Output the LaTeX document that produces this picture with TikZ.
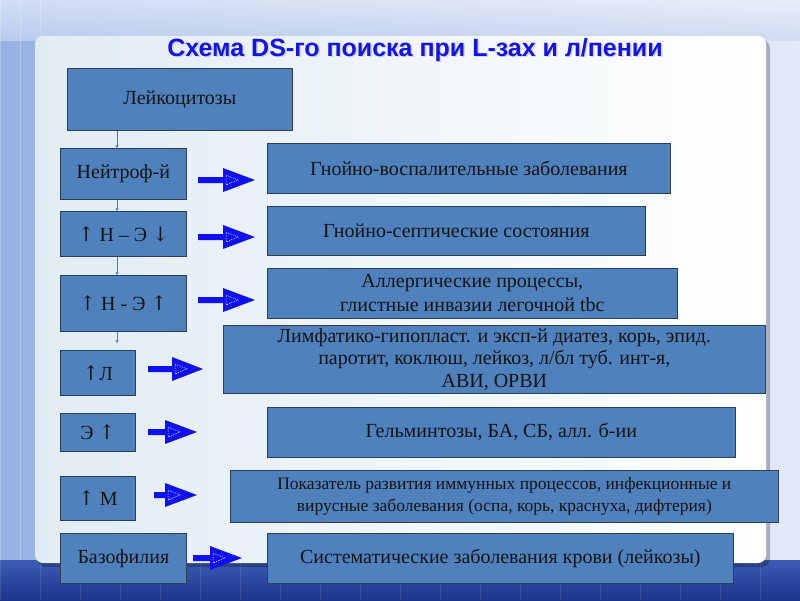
\documentclass[tikz,border=0pt]{standalone}
\usepackage{fontspec}
\setmainfont{Liberation Serif}
\newfontfamily\titlefont{Liberation Sans}
\newfontfamily\arrfont{DejaVu Serif}
\usetikzlibrary{arrows.meta,shadows,calc}
\definecolor{boxblue}{HTML}{4F81BD}
\definecolor{boxline}{HTML}{2E3E55}
\definecolor{arrblue}{HTML}{1010F0}
\definecolor{conblue}{HTML}{5566EE}
\definecolor{titleblue}{HTML}{1414E6}
\definecolor{txt}{HTML}{141414}
\newcommand\up{{\arrfont ↑}}
\newcommand\dn{{\arrfont ↓}}
\newcommand\blkarrow[4]{% x1, head start, tip, y
  \fill[arrblue] (#1,#4-3) -- (#2,#4-3) -- (#2,#4-12) -- (#3,#4) -- (#2,#4+12) -- (#2,#4+3) -- (#1,#4+3) -- cycle;
  \draw[white, line width=0.5pt, dash pattern=on 1.2pt off 1.2pt] (#2+3,#4-5) -- (#2+15,#4) -- (#2+3,#4+5) -- cycle;
}
\begin{document}
\begin{tikzpicture}[x=1pt,y=-1pt,
  box/.style={draw=boxline, line width=0.7pt, fill=boxblue, text=txt, align=center, inner sep=1pt, anchor=north west},
  lbox/.style={box, font=\fontsize{20}{22}\selectfont},
  rbox/.style={box, font=\fontsize{20}{24}\selectfont},
  con/.style={draw=conblue, line width=0.6pt, -{Stealth[length=3pt,width=3pt]}}]
\useasboundingbox (0,0) rectangle (800,600);
% background
\shade[left color={rgb,255:red,150;green,178;blue,228}, right color={rgb,255:red,226;green,234;blue,248}] (0,0) rectangle (800,600);
\shade[top color={rgb,255:red,236;green,240;blue,250}, bottom color={rgb,255:red,200;green,214;blue,240}, opacity=0.7] (0,0) rectangle (800,40);
\foreach \r in {60,90,120,150}{
  \draw[white, line width=2pt, opacity=0.6] (420+\r,40) arc (0:180:\r*0.6 and \r*0.4);
}
\foreach \xx in {0,20,...,40}{\draw[white,opacity=0.25,line width=1pt] (\xx,0) -- (\xx,560);}
\shade[top color={rgb,255:red,60;green,92;blue,180}, bottom color={rgb,255:red,28;green,52;blue,140}] (0,560) rectangle (800,600);
\foreach \xx in {0,40,...,800}{\draw[white,opacity=0.12,line width=0.8pt] (\xx,560) -- (\xx,600);}
% panel
\fill[black, opacity=0.25, rounded corners=8pt] (38,40) rectangle (770,567);
\shade[rounded corners=8pt, left color={rgb,255:red,224;green,236;blue,243}, right color=white] (35,36) rectangle (766,563);
% title
\node[font=\titlefont\bfseries\fontsize{25}{27}\selectfont, text=gray!40, opacity=0.8] at (416.5,51.5) {Схема DS-го поиска при L-зах и л/пении};
\node[font=\titlefont\bfseries\fontsize{25}{27}\selectfont, text=titleblue] (title) at (415,50) {Схема DS-го поиска при L-зах и л/пении};
% left boxes
\node[lbox, minimum width=225pt, minimum height=62pt] (b1) at (67,68) {Лейкоцитозы};
\node[lbox, minimum width=126pt, minimum height=51pt] (b2) at (60,148) {Нейтроф-й};
\node[lbox, minimum width=126pt, minimum height=45pt] (b3) at (60,211) {\up\ Н – Э \dn};
\node[lbox, minimum width=126pt, minimum height=56pt] (b4) at (60,275) {\up\ Н - Э \up};
\node[lbox, minimum width=75pt, minimum height=45pt] (b5) at (60,350) {\up Л};
\node[lbox, minimum width=75pt, minimum height=38pt] (b6) at (60,413) {Э \up};
\node[lbox, minimum width=75pt, minimum height=44pt] (b7) at (60,476) {\up\ М};
\node[lbox, minimum width=126pt, minimum height=50pt] (b8) at (60,533) {Базофилия};
% right boxes
\node[rbox, minimum width=403pt, minimum height=50pt] (r1) at (267,143) {Гнойно-воспалительные заболевания};
\node[rbox, minimum width=378pt, minimum height=49pt] (r2) at (267,206) {Гнойно-септические состояния};
\node[rbox, minimum width=410pt, minimum height=50pt] (r3) at (267,268) {Аллергические процессы,\\глистные инвазии легочной tbc};
\node[box, font=\fontsize{20}{22.5}\selectfont, minimum width=542pt, minimum height=68pt] (r4) at (223,325) {Лимфатико-гипопласт. и эксп-й диатез, корь, эпид.\\паротит, коклюш, лейкоз, л/бл туб. инт-я,\\АВИ, ОРВИ};
\node[rbox, minimum width=468pt, minimum height=50pt] (r5) at (267,407) {Гельминтозы, БА, СБ, алл. б-ии};
\node[box, font=\fontsize{17.5}{22}\selectfont, minimum width=548pt, minimum height=52pt] (r6) at (230,470) {Показатель развития иммунных процессов, инфекционные и\\вирусные заболевания (оспа, корь, краснуха, дифтерия)};
\node[rbox, minimum width=466pt, minimum height=50pt] (r7) at (267,533) {Систематические заболевания крови (лейкозы)};
% thin connectors
\draw[con] ([xshift=50pt]b1.south west) -- ([xshift=57pt]b2.north west);
\draw[con] ([xshift=57pt]b2.south west) -- ([xshift=57pt]b3.north west);
\draw[con] ([xshift=57pt]b3.south west) -- ([xshift=57pt]b4.north west);
\draw[con] ([xshift=57pt]b4.south west) -- ([xshift=57pt,yshift=7pt]b5.north west);
% block arrows
\blkarrow{198}{223}{255}{180}
\blkarrow{198}{223}{255}{237}
\blkarrow{198}{223}{255}{300}
\blkarrow{148}{172}{203}{369}
\blkarrow{148}{165}{197}{432}
\blkarrow{154}{165}{197}{495}
\blkarrow{193}{210}{242}{558}
\end{tikzpicture}
\end{document}
